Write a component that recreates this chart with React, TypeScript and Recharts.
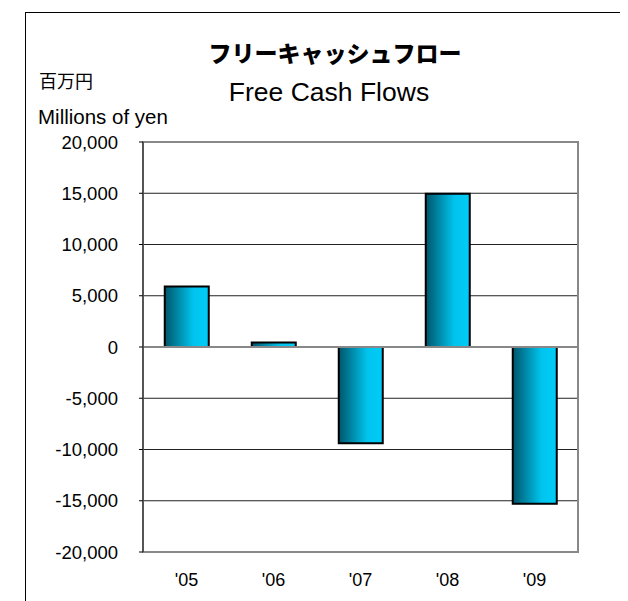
import React from "react";
import { BarChart, Bar, XAxis, YAxis, CartesianGrid, ReferenceLine, ReferenceArea } from "recharts";

const categories = ["'05", "'06", "'07", "'08", "'09"];
const freeCashFlow = [5900, 450, -9400, 14950, -15300];
const yTicks = [-20000, -15000, -10000, -5000, 0, 5000, 10000, 15000, 20000];

const data = categories.map((c, i) => ({ year: c, value: freeCashFlow[i] }));

const fmt = (v: number) => (v < 0 ? "-" : "") + Math.abs(v).toLocaleString("en-US");

export default function App() {
  const font = "'Liberation Sans', Arial, sans-serif";
  return (
    <div style={{ position: "relative", width: 620, height: 593, fontFamily: font }}>
      <div style={{ position: "absolute", left: 17, top: 4, width: 603, height: 589, borderTop: "1px solid #000", borderLeft: "1px solid #000" }} />
      <div style={{ position: "absolute", left: 0, width: 654, top: 28, textAlign: "center", fontSize: 23, fontWeight: 900, fontFamily: "'Noto Sans CJK JP', sans-serif", lineHeight: "32px" }}>フリーキャッシュフロー</div>
      <div style={{ position: "absolute", left: 0, width: 642, top: 69, textAlign: "center", fontSize: 26.5, lineHeight: "30px" }}>Free Cash Flows</div>
      <div style={{ position: "absolute", left: 31, top: 60, fontSize: 18, fontFamily: "'Noto Sans CJK JP', sans-serif", lineHeight: "24px" }}>百万円</div>
      <div style={{ position: "absolute", left: 30, top: 97, fontSize: 20.5, lineHeight: "24px" }}>Millions of yen</div>
      <div style={{ position: "absolute", left: 0, top: 0 }}>
        <BarChart width={620} height={593} data={data} margin={{ top: 134, right: 50, bottom: 19, left: 0 }} barCategoryGap="25%">
          <defs>
            <linearGradient id="barGrad" x1="0" y1="0" x2="1" y2="0">
              <stop offset="0%" stopColor="#00556b" />
              <stop offset="65%" stopColor="#00c4ee" />
              <stop offset="100%" stopColor="#00ccf8" />
            </linearGradient>
          </defs>
          <CartesianGrid vertical={false} stroke="#222" strokeWidth={1} />
          <ReferenceArea y1={-20000} y2={20000} fill="none" stroke="#888" strokeWidth={2} ifOverflow="extendDomain" />
          <XAxis dataKey="year" axisLine={false} tickLine={false} tickSize={0} tickMargin={21} tick={{ fill: "#000", fontSize: 18, fontFamily: font }} height={30} />
          <YAxis
            domain={[-20000, 20000]}
            ticks={yTicks}
            tickFormatter={fmt}
            width={135}
            axisLine={{ stroke: "#555", strokeWidth: 2 }}
            tickLine={{ stroke: "#000" }}
            tickSize={4}
            tickMargin={21}
            tick={{ fill: "#000", fontSize: 18.5, fontFamily: font }}
            interval={0}
          />
          <ReferenceLine y={0} stroke="#888" strokeWidth={2} />
          <Bar dataKey="value" fill="url(#barGrad)" stroke="#000" strokeWidth={2} isAnimationActive={false} />
        </BarChart>
      </div>
    </div>
  );
}
